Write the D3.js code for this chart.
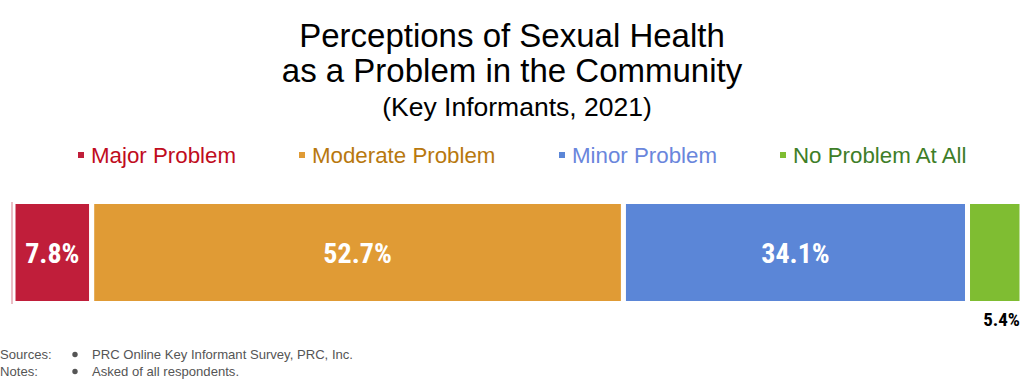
<!DOCTYPE html>
<html><head><meta charset="utf-8">
<script src="https://cdn.jsdelivr.net/npm/d3@7"></script>
<style>body{margin:0;background:#fff}svg{display:block}</style>
</head><body>
<svg id="c" width="1024" height="382"></svg>
<script>
const categories = ["Major Problem", "Moderate Problem", "Minor Problem", "No Problem At All"];
const values = [7.8, 52.7, 34.1, 5.4];
const labels = ["7.8%", "52.7%", "34.1%", "5.4%"];
const barColors = ["#C01E3A", "#E09B35", "#5B86D7", "#7FBD32"];
const legendColors = ["#C00C20", "#B8780E", "#6A86DC", "#3E7E28"];
const titleLines = ["Perceptions of Sexual Health", "as a Problem in the Community"];
const subtitle = "(Key Informants, 2021)";
const footRows = [["Sources:", "PRC Online Key Informant Survey, PRC, Inc."], ["Notes:", "Asked of all respondents."]];

const svg = d3.select("#c");
const F = "'Liberation Sans', Arial, sans-serif";
const FN = "'Liberation Sans Narrow', 'Roboto Condensed', 'Liberation Sans', sans-serif";

svg.selectAll("text.t").data(titleLines).join("text").attr("class","t")
  .attr("x",512).attr("y",(d,i)=>47+i*35).attr("text-anchor","middle")
  .attr("font-family",F).attr("font-size",33).attr("fill","#000").text(d=>d);
svg.append("text").attr("x",517).attr("y",116).attr("text-anchor","middle")
  .attr("font-family",F).attr("font-size",26.5).attr("fill","#000").text(subtitle);

const legX = [78, 299, 559, 780];
const lg = svg.selectAll("g.leg").data(categories).join("g").attr("class","leg")
  .attr("transform",(d,i)=>`translate(${legX[i]},155)`);
lg.append("rect").attr("x",0).attr("y",-3).attr("width",6).attr("height",6).attr("fill",(d,i)=>barColors[i]);
lg.append("text").attr("x",13).attr("y",8).attr("font-family",F).attr("font-size",22.3)
  .attr("fill",(d,i)=>legendColors[i]).text(d=>d);

const x = d3.scaleLinear().domain([0, d3.sum(values)]).range([13, 1022]);
const y = d3.scaleBand().domain(["all"]).range([201.5, 303.5]).padding(0);
const starts = d3.cumsum([0, ...values]).slice(0, values.length);

svg.selectAll("rect.bar").data(values).join("rect").attr("class","bar")
  .attr("x",(d,i)=>x(starts[i])).attr("y",y("all"))
  .attr("width",d=>x(d)-x(0)).attr("height",y.bandwidth())
  .attr("fill",(d,i)=>barColors[i]).attr("stroke","#fff").attr("stroke-width",5);

svg.append("line").attr("x1",12).attr("x2",12).attr("y1",202).attr("y2",304)
  .attr("stroke","#E5A8B2").attr("stroke-width",1.5);

svg.selectAll("text.lbl").data(values).join("text").attr("class","lbl")
  .attr("x",(d,i)=> i===3 ? x(starts[i]+d)-2 : x(starts[i]+d/2))
  .attr("y",(d,i)=> i===3 ? 326 : y("all")+y.bandwidth()/2+10)
  .attr("text-anchor",(d,i)=> i===3 ? "end" : "middle")
  .attr("font-family",FN).attr("font-weight","bold")
  .attr("font-size",(d,i)=> i===3 ? 19 : 28)
  .attr("fill",(d,i)=> i===3 ? "#000" : "#fff")
  .text((d,i)=>labels[i]);

const fr = svg.selectAll("g.ft").data(footRows).join("g").attr("class","ft")
  .attr("transform",(d,i)=>`translate(0,${359+i*17})`);
fr.append("text").attr("x",0).attr("y",0).attr("font-family",F).attr("font-size",13.1).attr("fill","#555").text(d=>d[0]);
fr.append("circle").attr("cx",75).attr("cy",-4.5).attr("r",2.7).attr("fill","#555");
fr.append("text").attr("x",92).attr("y",0).attr("font-family",F).attr("font-size",13.1).attr("fill","#555").text(d=>d[1]);
</script>
</body></html>
